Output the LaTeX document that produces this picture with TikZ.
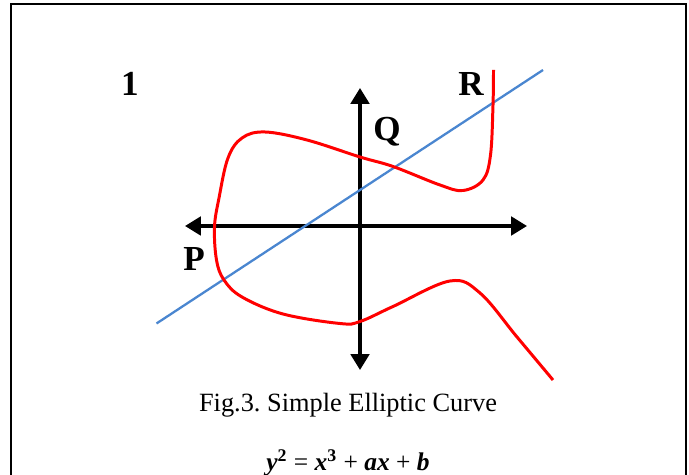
\documentclass[tikz,border=0pt]{standalone}
\usepackage{fontspec}
\setmainfont{Liberation Serif}
\usetikzlibrary{arrows.meta, positioning, calc}
\definecolor{lineblue}{RGB}{74,134,208}
\newcommand{\bv}[1]{{\bfseries\itshape #1}}
\frenchspacing

\begin{document}
\begin{tikzpicture}[
    x=0.02cm, y=-0.02cm,
    frame/.style={line width=1.2pt},
    axis/.style={{Triangle[length=9pt,width=10.5pt]}-{Triangle[length=9pt,width=10.5pt]}, line width=1.9pt},
    curve/.style={red, line width=1.7pt},
    secant/.style={lineblue, line width=1.3pt},
    lbl/.style={inner sep=0pt, font=\fontsize{20}{24}\selectfont\bfseries},
    capt/.style={inner sep=0pt, anchor=base, font=\fontsize{15}{18}\selectfont}
]
\useasboundingbox (0,0) rectangle (689,475);
\draw[frame] (11,476) -- (11,4) -- (686,4) -- (686,476);

% axes
\coordinate (xl) at (185,226);
\coordinate (xr) at (527,226);
\coordinate (yt) at (360,88);
\coordinate (yb) at (360,370);
\draw[axis] (xl) -- (xr);
\draw[axis] (yt) -- (yb);

% secant line through P, Q, R
\coordinate (s1) at (156.5,323.5);
\coordinate (s2) at (543,70);
\draw[secant] (s1) -- (s2);

% the curve
\draw[curve] plot[smooth, tension=0.6] coordinates {(493.5,70) (493,105) (490.5,155) (483,180) (463,190.5) (440,185) (393,166.5) (360,157) (307,140) (265,132) (242,138) (228,158) (219,198) (214.5,227) (216.5,260) (224,280) (242,297) (283,314) (340,323.5) (360,321.5) (393,306.5) (450,281) (480,293) (517,337) (553,380)};

\node[lbl] (one) at (130,84) {1};
\node[lbl] (R) at (471,84) {R};
\node[lbl] (Q) at (387,132) {Q};
\node[lbl] (P) at (194,259) {P};

\node[capt] (cap) at (348,412) {Fig.3. Simple Elliptic Curve};
\node[capt, font=\fontsize{14.5}{17}\selectfont] (eq) at (348,470.5) {\bv{y}\textsuperscript{\bfseries 2} = \bv{x}\textsuperscript{\bfseries 3} + \bv{ax} + \bv{b}};
\end{tikzpicture}
\end{document}
